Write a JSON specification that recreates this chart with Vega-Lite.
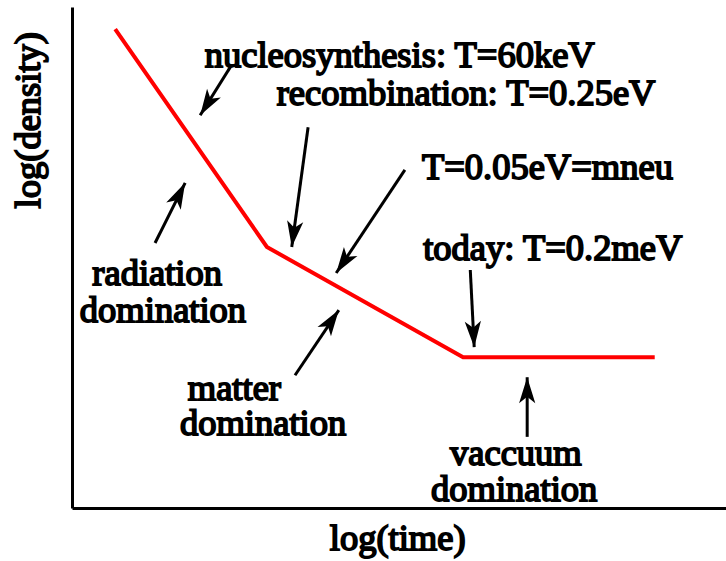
{
  "$schema": "https://vega.github.io/schema/vega-lite/v6.json",
  "width": 654,
  "height": 501,
  "autosize": {"type": "none"},
  "padding": {"left": 72, "top": 7, "right": 0, "bottom": 53},
  "background": "white",
  "config": {
    "view": {"stroke": null},
    "axis": {"title": null, "labels": false, "ticks": false, "grid": false, "domainColor": "black", "domainWidth": 3}
  },
  "datasets": {
    "curve": [
      {"logt": 6.6, "logrho": 95.6},
      {"logt": 29.8, "logrho": 52.1},
      {"logt": 59.8, "logrho": 30.1},
      {"logt": 89.1, "logrho": 30.1}
    ],
    "arrows": [
      {"x0": 24.2, "y0": 88.0, "x1": 19.6, "y1": 78.4, "dir": 212},
      {"x0": 12.7, "y0": 52.9, "x1": 17.3, "y1": 64.9, "dir": 26.6},
      {"x0": 36.1, "y0": 76.0, "x1": 33.6, "y1": 52.1, "dir": 187.6},
      {"x0": 50.9, "y0": 67.5, "x1": 40.4, "y1": 46.9, "dir": 213.8},
      {"x0": 34.1, "y0": 26.5, "x1": 40.8, "y1": 39.5, "dir": 34.1},
      {"x0": 60.9, "y0": 47.5, "x1": 61.5, "y1": 32.1, "dir": 177},
      {"x0": 69.6, "y0": 14.2, "x1": 69.6, "y1": 26.1, "dir": 0}
    ],
    "labels": [
      {"x": 20.3, "y": 88.0, "label": "nucleosynthesis: T=60keV"},
      {"x": 31.3, "y": 80.4, "label": "recombination: T=0.25eV"},
      {"x": 53.5, "y": 65.7, "label": "T=0.05eV=mneu"},
      {"x": 53.7, "y": 49.5, "label": "today: T=0.2meV"},
      {"x": 3.1, "y": 44.5, "label": "radiation"},
      {"x": 1.2, "y": 37.1, "label": "domination"},
      {"x": 17.7, "y": 21.6, "label": "matter"},
      {"x": 16.5, "y": 14.6, "label": "domination"},
      {"x": 57.8, "y": 8.6, "label": "vaccuum"},
      {"x": 54.9, "y": 1.4, "label": "domination"}
    ]
  },
  "layer": [
    {
      "data": {"name": "curve"},
      "mark": {"type": "line", "color": "#ff0000", "strokeWidth": 4},
      "encoding": {
        "x": {"field": "logt", "type": "quantitative", "scale": {"domain": [0, 100]}},
        "y": {"field": "logrho", "type": "quantitative", "scale": {"domain": [0, 100]}}
      }
    },
    {
      "data": {"name": "arrows"},
      "mark": {"type": "rule", "color": "black", "strokeWidth": 3},
      "encoding": {
        "x": {"field": "x0", "type": "quantitative"},
        "y": {"field": "y0", "type": "quantitative"},
        "x2": {"field": "x1"},
        "y2": {"field": "y1"}
      }
    },
    {
      "data": {"name": "arrows"},
      "mark": {"type": "point", "shape": "M0,0 L0.5,1.6 L0,1.2 L-0.5,1.6 Z", "filled": true, "color": "black", "opacity": 1, "size": 1056, "strokeWidth": 0},
      "encoding": {
        "x": {"field": "x1", "type": "quantitative"},
        "y": {"field": "y1", "type": "quantitative"},
        "angle": {"field": "dir", "type": "quantitative", "scale": null}
      }
    },
    {
      "data": {"name": "labels"},
      "mark": {"type": "text", "align": "left", "baseline": "alphabetic", "font": "Liberation Serif", "fontSize": 36.5, "fill": "black", "stroke": "black", "strokeWidth": 1.8},
      "encoding": {
        "x": {"field": "x", "type": "quantitative"},
        "y": {"field": "y", "type": "quantitative"},
        "text": {"field": "label"}
      }
    },
    {
      "data": {"values": [{"x": 49.8, "y": -8.4, "label": "log(time)"}]},
      "mark": {"type": "text", "align": "center", "baseline": "alphabetic", "font": "Liberation Serif", "fontSize": 36.5, "fill": "black", "stroke": "black", "strokeWidth": 1.8},
      "encoding": {
        "x": {"field": "x", "type": "quantitative"},
        "y": {"field": "y", "type": "quantitative"},
        "text": {"field": "label"}
      }
    },
    {
      "data": {"values": [{"x": -6.6, "y": 77.4, "label": "log(density)"}]},
      "mark": {"type": "text", "align": "center", "baseline": "middle", "angle": 270, "font": "Liberation Serif", "fontSize": 36.5, "fill": "black", "stroke": "black", "strokeWidth": 1.8},
      "encoding": {
        "x": {"field": "x", "type": "quantitative"},
        "y": {"field": "y", "type": "quantitative"},
        "text": {"field": "label"}
      }
    }
  ]
}
